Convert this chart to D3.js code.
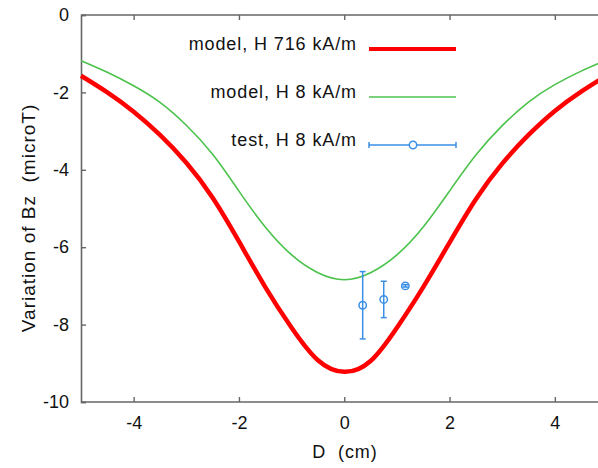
<!DOCTYPE html>
<html>
<head>
<meta charset="utf-8">
<script src="https://cdn.jsdelivr.net/npm/d3@7"></script>
<style>
  html, body { margin: 0; padding: 0; background: #fff; }
  svg { display: block; }
  text { font-family: "Liberation Sans", Arial, sans-serif; fill: #111; }
</style>
</head>
<body>
<script>
// Field variation along D for two applied fields (models) plus measured points
const distance = [-5, -4.5, -4, -3.5, -3, -2.5, -2, -1.5, -1, -0.5, 0, 0.5, 1, 1.5, 2, 2.5, 3, 3.5, 4, 4.5, 5];
const modelHigh = [-1.57, -2.0, -2.5, -3.1, -3.82, -4.72, -5.85, -7.03, -8.08, -8.92, -9.22, -8.94, -8.08, -7.03, -5.88, -4.76, -3.84, -3.1, -2.48, -1.98, -1.55];
const modelLow = [-1.18, -1.48, -1.83, -2.26, -2.85, -3.6, -4.55, -5.48, -6.2, -6.66, -6.84, -6.66, -6.2, -5.48, -4.55, -3.62, -2.86, -2.25, -1.8, -1.45, -1.15];
const testD = [0.35, 0.75, 1.16];
const testV = [-7.5, -7.35, -7.0];
const testErr = [0.87, 0.47, 0.03];
const xTicks = [-4, -2, 0, 2, 4];
const yTicks = [0, -2, -4, -6, -8, -10];
const legendLabels = ["model, H 716 kA/m", "model, H 8 kA/m", "test, H 8 kA/m"];

const W = 598, H = 468;
const axisColor = "#666";
const red = "#ff0000", green = "#4cc24c", blue = "#3a8fe6";

const svg = d3.select("body").append("svg").attr("width", W).attr("height", H);

const x = d3.scaleLinear().domain([-5, 5]).range([81, 607.5]);
const y = d3.scaleLinear().domain([-10, 0]).range([402, 15]);
const fmt = d => String(d); // plain hyphen-minus labels

// axes with inward ticks
const gx = svg.append("g").attr("transform", `translate(0,${y(-10)})`)
  .call(d3.axisBottom(x).tickValues(xTicks).tickSize(-5).tickPadding(14).tickFormat(fmt));
const gxTop = svg.append("g").attr("transform", `translate(0,${y(0)})`)
  .call(d3.axisTop(x).tickValues(xTicks).tickSize(-5).tickFormat(""));
const gy = svg.append("g").attr("transform", `translate(${x(-5)},0)`)
  .call(d3.axisLeft(y).tickValues(yTicks).tickSize(-5).tickPadding(12).tickFormat(fmt));

[gx, gxTop, gy].forEach(g => {
  g.select(".domain").attr("stroke", axisColor).attr("stroke-width", 1.6);
  g.selectAll(".tick line").attr("stroke", axisColor).attr("stroke-width", 1.4);
  g.selectAll(".tick text").attr("font-size", 18).attr("fill", "#111")
    .style("font-family", "'Liberation Sans', Arial, sans-serif");
});
gx.selectAll(".domain").attr("d", `M${x(-5)},0H${W}`);
gxTop.selectAll(".domain").attr("d", `M${x(-5)},0H${W}`);

// axis titles
svg.append("text").attr("x", 345).attr("y", 458).attr("text-anchor", "middle")
  .attr("font-size", 18).attr("letter-spacing", 0.9).style("white-space", "pre")
  .text("D  (cm)");
svg.append("text").attr("transform", `translate(35,218) rotate(-90)`).attr("text-anchor", "middle")
  .attr("font-size", 19).attr("letter-spacing", 1).style("white-space", "pre")
  .text("Variation of Bz  (microT)");

// model curves
const plot = svg.append("g");
const line = d3.line().x((d, i) => x(distance[i])).y(d => y(d)).curve(d3.curveNatural);
plot.append("path").datum(modelLow).attr("d", line).attr("fill", "none")
  .attr("stroke", green).attr("stroke-width", 1.6);
plot.append("path").datum(modelHigh).attr("d", line).attr("fill", "none")
  .attr("stroke", red).attr("stroke-width", 4.5);

// measured points with error bars
const pts = plot.append("g").attr("stroke", blue).attr("stroke-width", 1.5).attr("fill", "none");
testD.forEach((d, i) => {
  const cx = x(d), lo = y(testV[i] - testErr[i]), hi = y(testV[i] + testErr[i]);
  pts.append("line").attr("x1", cx).attr("x2", cx).attr("y1", hi).attr("y2", lo);
  pts.append("line").attr("x1", cx - 3).attr("x2", cx + 3).attr("y1", hi).attr("y2", hi);
  pts.append("line").attr("x1", cx - 3).attr("x2", cx + 3).attr("y1", lo).attr("y2", lo);
  pts.append("circle").attr("cx", cx).attr("cy", y(testV[i])).attr("r", 3.7).attr("fill", "none");
});

// legend
const legendRows = [49, 97, 145];
const lx0 = 369, lx1 = 456;
legendLabels.forEach((lab, i) => {
  svg.append("text").attr("x", 357).attr("y", legendRows[i] + 0.5).attr("text-anchor", "end")
    .attr("font-size", 18).attr("letter-spacing", 0.9).text(lab);
});
svg.append("line").attr("x1", lx0).attr("x2", lx1).attr("y1", legendRows[0]).attr("y2", legendRows[0])
  .attr("stroke", red).attr("stroke-width", 4);
svg.append("line").attr("x1", lx0).attr("x2", lx1).attr("y1", legendRows[1]).attr("y2", legendRows[1])
  .attr("stroke", green).attr("stroke-width", 1.6);
const lg = svg.append("g").attr("stroke", blue).attr("stroke-width", 1.5).attr("fill", "none");
lg.append("line").attr("x1", lx0).attr("x2", lx1).attr("y1", legendRows[2]).attr("y2", legendRows[2]);
lg.append("line").attr("x1", lx0).attr("x2", lx0).attr("y1", legendRows[2] - 3).attr("y2", legendRows[2] + 3);
lg.append("line").attr("x1", lx1).attr("x2", lx1).attr("y1", legendRows[2] - 3).attr("y2", legendRows[2] + 3);
lg.append("circle").attr("cx", 413).attr("cy", legendRows[2]).attr("r", 3.7).attr("fill", "#fff");
</script>
</body>
</html>
